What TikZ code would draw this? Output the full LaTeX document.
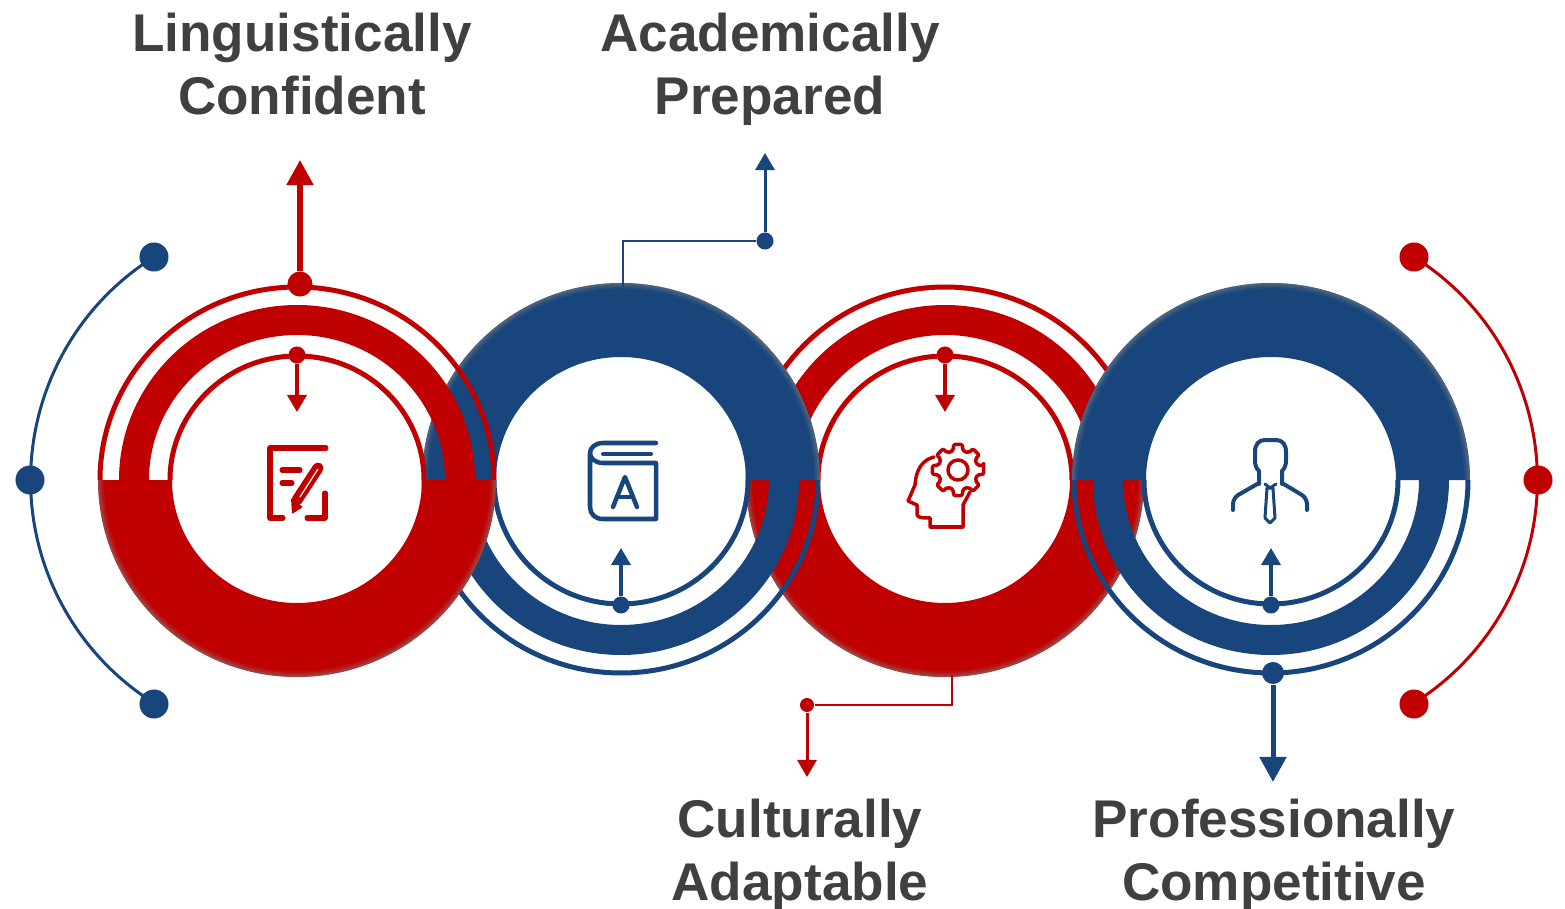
\documentclass[tikz,border=0pt]{standalone}
\usepackage{fontspec}
\setmainfont{Liberation Sans}
\usetikzlibrary{arrows.meta}
\definecolor{ringred}{HTML}{C00000}
\definecolor{ringblue}{HTML}{17457C}
\definecolor{labelgrey}{HTML}{404040}
% solid half: centre x, colour, start angle of the half
\newcommand{\solidhalf}[3]{
  \fill[#2] (#1,480) ++({199*cos(#3)},0) arc [start angle=#3, delta angle=180, x radius=199, y radius=197] -- ++({74*cos(#3)},0) arc [start angle=#3+180, delta angle=-180, x radius=125, y radius=123] -- cycle;
  \foreach \o/\rx/\ry in {.5/198/196,.3/196/194,.12/194/192}
    \draw[gray, opacity=\o, line width=0.02cm] (#1,480) ++({\rx*cos(#3)},0) arc [start angle=#3, delta angle=180, x radius=\rx, y radius=\ry];
}
% thin rings and band: centre x, colour, start angle of the half
\newcommand{\ringhalf}[3]{
  \draw[#2, line width=0.05cm] (#1,480) ++({197*cos(#3)},0) arc [start angle=#3, delta angle=180, x radius=197, y radius=193];
  \fill[#2] (#1,480) ++({178*cos(#3)},0) arc [start angle=#3, delta angle=180, x radius=178, y radius=175] -- ++({30*cos(#3)},0) arc [start angle=#3+180, delta angle=-180, x radius=148, y radius=145] -- cycle;
  \draw[#2, line width=0.05cm] (#1,480) ++({127*cos(#3)},0) arc [start angle=#3, delta angle=180, x radius=127, y radius=124];
}

\begin{document}
\begin{tikzpicture}[x=0.01cm, y=-0.01cm,
  bigdot/.style={circle, fill, inner sep=0pt, minimum size=0.25cm},
  sidedot/.style={circle, fill, inner sep=0pt, minimum size=0.29cm},
  smalldot/.style={circle, fill, inner sep=0pt, minimum size=0.17cm},
  heavy/.style={line width=0.05cm, -{Triangle[width=0.26cm, length=0.25cm]}},
  light/.style={line width=0.035cm, -{Triangle[width=0.19cm, length=0.17cm]}},
  wire/.style={line width=0.03cm},
  icon/.style={line width=#1, line cap=round, line join=round},
  heading/.style={text=labelgrey, font=\fontsize{15.1pt}{17.9pt}\selectfont\bfseries, align=center}]
  \useasboundingbox (0,0) rectangle (1565,909);

  % rings, back to front
  \solidhalf{945}{ringred}{0}
  \ringhalf{945}{ringred}{180}
  \solidhalf{621}{ringblue}{180}
  \ringhalf{621}{ringblue}{0}
  \solidhalf{1271}{ringblue}{180}
  \ringhalf{1271}{ringblue}{0}
  \solidhalf{297}{ringred}{0}
  \ringhalf{297}{ringred}{180}

  % side arcs
  \node[sidedot, ringblue] (leftTop) at (154,257) {};
  \node[sidedot, ringblue] (leftMid) at (30,480) {};
  \node[sidedot, ringblue] (leftBot) at (154,704) {};
  \draw[ringblue, wire] (leftTop.center) arc [start angle=237.9, delta angle=-115.8, radius=263.3];
  \node[sidedot, ringred] (rightTop) at (1414,257) {};
  \node[sidedot, ringred] (rightMid) at (1538,480) {};
  \node[sidedot, ringred] (rightBot) at (1414,704) {};
  \draw[ringred, wire] (rightTop.center) arc [start angle=-57.9, delta angle=115.8, radius=263.3];

  % first ring
  \node[bigdot, ringred] (lingDot) at (300,284) {};
  \coordinate (lingTip) at (300,160);
  \draw[ringred, heavy] (lingDot) -- (lingTip);
  \node[smalldot, ringred] (lingIn) at (297,355) {};
  \coordinate (lingInTip) at (297,412);
  \draw[ringred, light] (lingIn) -- (lingInTip);

  % second ring
  \coordinate (acadTop) at (623,287);
  \node[smalldot, ringblue] (acadDot) at (765,241) {};
  \coordinate (acadTip) at (765,153);
  \draw[ringblue, line width=0.025cm] (acadTop) |- (acadDot);
  \draw[ringblue, light, line width=0.03cm] (acadDot) -- (acadTip);
  \node[smalldot, ringblue] (acadIn) at (621,605) {};
  \coordinate (acadInTip) at (621,548);
  \draw[ringblue, light] (acadIn) -- (acadInTip);

  % third ring
  \coordinate (cultBot) at (952,675);
  \node[smalldot, ringred, minimum size=0.14cm] (cultDot) at (807,705) {};
  \coordinate (cultTip) at (807,777);
  \draw[ringred, line width=0.025cm] (cultBot) |- (cultDot);
  \draw[ringred, light, line width=0.03cm] (cultDot) -- (cultTip);
  \node[smalldot, ringred] (cultIn) at (945,355) {};
  \coordinate (cultInTip) at (945,412);
  \draw[ringred, light] (cultIn) -- (cultInTip);

  % fourth ring
  \node[bigdot, ringblue, minimum size=0.22cm] (profDot) at (1273,673) {};
  \coordinate (profTip) at (1273,782);
  \draw[ringblue, heavy] (profDot) -- (profTip);
  \node[smalldot, ringblue] (profIn) at (1271,605) {};
  \coordinate (profInTip) at (1271,548);
  \draw[ringblue, light] (profIn) -- (profInTip);

  % note and pencil
  \draw[ringred, icon=0.05cm] (326,448) -- (270,448) -- (270,518) -- (283,518);
  \draw[ringred, icon=0.05cm] (325,493) -- (325,518) -- (307,518);
  \draw[ringred, icon=0.05cm] (282,470) -- (300,470);
  \draw[ringred, icon=0.05cm] (282,483) -- (292,483);
  \draw[ringred, icon=0.11cm] (318,468) -- (297,500);
  \fill[ringred, rounded corners=0.01cm] (291,498) -- (292,514) -- (303,507) -- cycle;
  \draw[white, line width=0.012cm] (318,469) -- (300,497);

  % book
  \draw[ringblue, icon=0.045cm] (656,443) -- (603,443) .. controls (595,443) and (590,448) .. (590,453) .. controls (590,458) and (595,463) .. (603,463) -- (656,463) -- (656,519) -- (603,519) .. controls (595,519) and (590,514) .. (590,507) -- (590,453);
  \draw[ringblue, icon=0.04cm] (603,454) -- (651,454);
  \draw[ringblue, icon=0.045cm] (613,507) -- (625,477) -- (637,507);
  \draw[ringblue, icon=0.045cm] (617,497) -- (633,497);

  % head and gear
  \draw[ringred, icon=0.035cm] (934,457) .. controls (922,460) and (916,470) .. (915,485) -- (908,501) -- (917,505) -- (917,514) .. controls (917,517) and (920,518) .. (930,518) -- (930,527) -- (963,527) -- (963,505) -- (970,492);
  \draw[ringred, icon=0.035cm] (958,470) circle (10);
  \draw[ringred, icon=0.035cm, rounded corners=0.02cm, shift={(958,470)}] (-10:26)
    \foreach \a in {0,45,...,315} { -- (\a-10:26) -- (\a+10:26) -- (\a+13:20) -- (\a+32:20) } -- cycle;

  % man with tie
  \draw[ringblue, icon=0.04cm] (1259,484) -- (1259,471) .. controls (1256,468) and (1255,465) .. (1255,460) -- (1255,452) .. controls (1255,444) and (1259,440) .. (1265,440) -- (1276,440) .. controls (1282,440) and (1286,444) .. (1286,452) -- (1286,460) .. controls (1286,465) and (1285,468) .. (1282,471) -- (1282,484);
  \draw[ringblue, icon=0.04cm, rounded corners=0.06cm] (1259,483) -- (1233,498) -- (1233,510);
  \draw[ringblue, icon=0.04cm, rounded corners=0.06cm] (1282,483) -- (1307,498) -- (1307,510);
  \draw[ringblue, icon=0.03cm] (1265,484) -- (1270,488) -- (1276,484);
  \draw[ringblue, icon=0.03cm] (1267,488) -- (1265,518) -- (1270,523) -- (1275,518) -- (1273,488) -- cycle;

  % headings
  \node[heading] (ling) at (302,64) {Linguistically\\Confident};
  \node[heading] (acad) at (770,69) {Academically\\Prepared};
  \node[heading] (cult) at (800,855) {Culturally\\Adaptable};
  \node[heading] (prof) at (1274,855) {Professionally\\Competitive};
\end{tikzpicture}
\end{document}
